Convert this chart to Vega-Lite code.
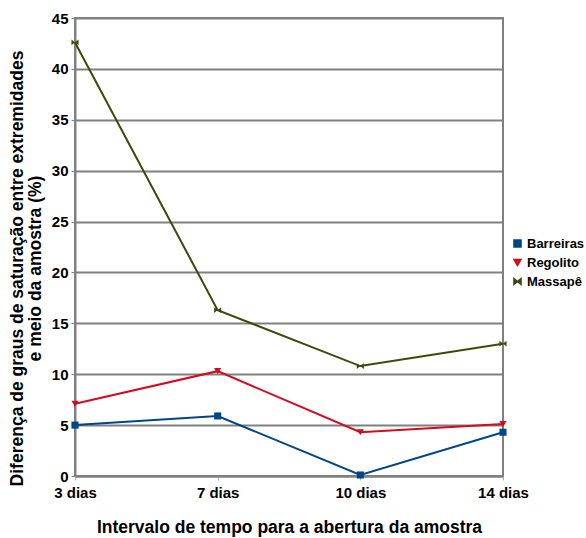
{
  "$schema": "https://vega.github.io/schema/vega-lite/v6.json",
  "autosize": "none",
  "width": 428,
  "height": 458,
  "padding": {"left": 75, "top": 18, "right": 83, "bottom": 62},
  "background": "white",
  "config": {
    "font": "Arial",
    "view": {"stroke": "#808080", "strokeWidth": 2}
  },
  "data": {
    "values": [
      {"dia": "3 dias", "serie": "Barreiras", "v": 5.0},
      {"dia": "7 dias", "serie": "Barreiras", "v": 5.9},
      {"dia": "10 dias", "serie": "Barreiras", "v": 0.1},
      {"dia": "14 dias", "serie": "Barreiras", "v": 4.3},
      {"dia": "3 dias", "serie": "Regolito", "v": 7.1},
      {"dia": "7 dias", "serie": "Regolito", "v": 10.3},
      {"dia": "10 dias", "serie": "Regolito", "v": 4.3},
      {"dia": "14 dias", "serie": "Regolito", "v": 5.1},
      {"dia": "3 dias", "serie": "Massapê", "v": 42.6},
      {"dia": "7 dias", "serie": "Massapê", "v": 16.3},
      {"dia": "10 dias", "serie": "Massapê", "v": 10.8},
      {"dia": "14 dias", "serie": "Massapê", "v": 13.0}
    ]
  },
  "encoding": {
    "x": {
      "field": "dia", "type": "ordinal",
      "sort": ["3 dias", "7 dias", "10 dias", "14 dias"],
      "scale": {"type": "point", "padding": 0},
      "axis": {
        "title": "Intervalo de tempo para a abertura da amostra",
        "titleFont": "Arial", "titleFontSize": 17.5, "titleFontWeight": "bold", "titleColor": "black",
        "titlePadding": 18,
        "labelFont": "Arial", "labelAngle": 0, "labelFontSize": 15, "labelFontWeight": "bold", "labelColor": "black",
        "labelPadding": 5,
        "domainColor": "#808080", "domainWidth": 2,
        "tickColor": "#b0b0b0", "tickSize": 4, "grid": false
      }
    },
    "y": {
      "field": "v", "type": "quantitative",
      "scale": {"domain": [0, 45], "nice": false},
      "axis": {
        "values": [0, 5, 10, 15, 20, 25, 30, 35, 40, 45],
        "title": ["Diferença de graus de saturação entre extremidades", "e meio da amostra (%)"],
        "titleFont": "Arial", "titleFontSize": 17.5, "titleFontWeight": "bold", "titleColor": "black",
        "titleX": -49, "titleY": 250, "titleAngle": -90, "titleAlign": "center", "titleBaseline": "bottom",
        "titleLineHeight": 18,
        "labelFont": "Arial", "labelFontSize": 15, "labelFontWeight": "bold", "labelColor": "black",
        "labelPadding": 3,
        "domainColor": "#808080", "domainWidth": 2,
        "tickColor": "#808080", "tickSize": 4,
        "grid": true, "gridColor": "#808080", "gridWidth": 2
      }
    },
    "color": {
      "field": "serie", "type": "nominal",
      "sort": ["Barreiras", "Regolito", "Massapê"],
      "scale": {"domain": ["Barreiras", "Regolito", "Massapê"], "range": ["#004586", "#d40a1e", "#3b4a0b"]},
      "legend": {
        "title": null, "orient": "none", "legendX": 436, "legendY": 219,
        "labelFont": "Arial", "labelFontSize": 13, "labelFontWeight": "bold", "labelColor": "black",
        "rowPadding": 5, "symbolSize": 50, "labelOffset": 3
      }
    }
  },
  "layer": [
    {"mark": {"type": "line", "strokeWidth": 2}},
    {
      "mark": {"type": "point", "filled": true, "opacity": 1, "size": 50},
      "encoding": {
        "shape": {
          "field": "serie", "type": "nominal",
          "sort": ["Barreiras", "Regolito", "Massapê"],
          "scale": {"domain": ["Barreiras", "Regolito", "Massapê"], "range": ["square", "triangle-down", "M-1,-0.8L1,0.8L1,-0.8L-1,0.8Z"]},
          "legend": {"title": null}
        }
      }
    }
  ]
}
